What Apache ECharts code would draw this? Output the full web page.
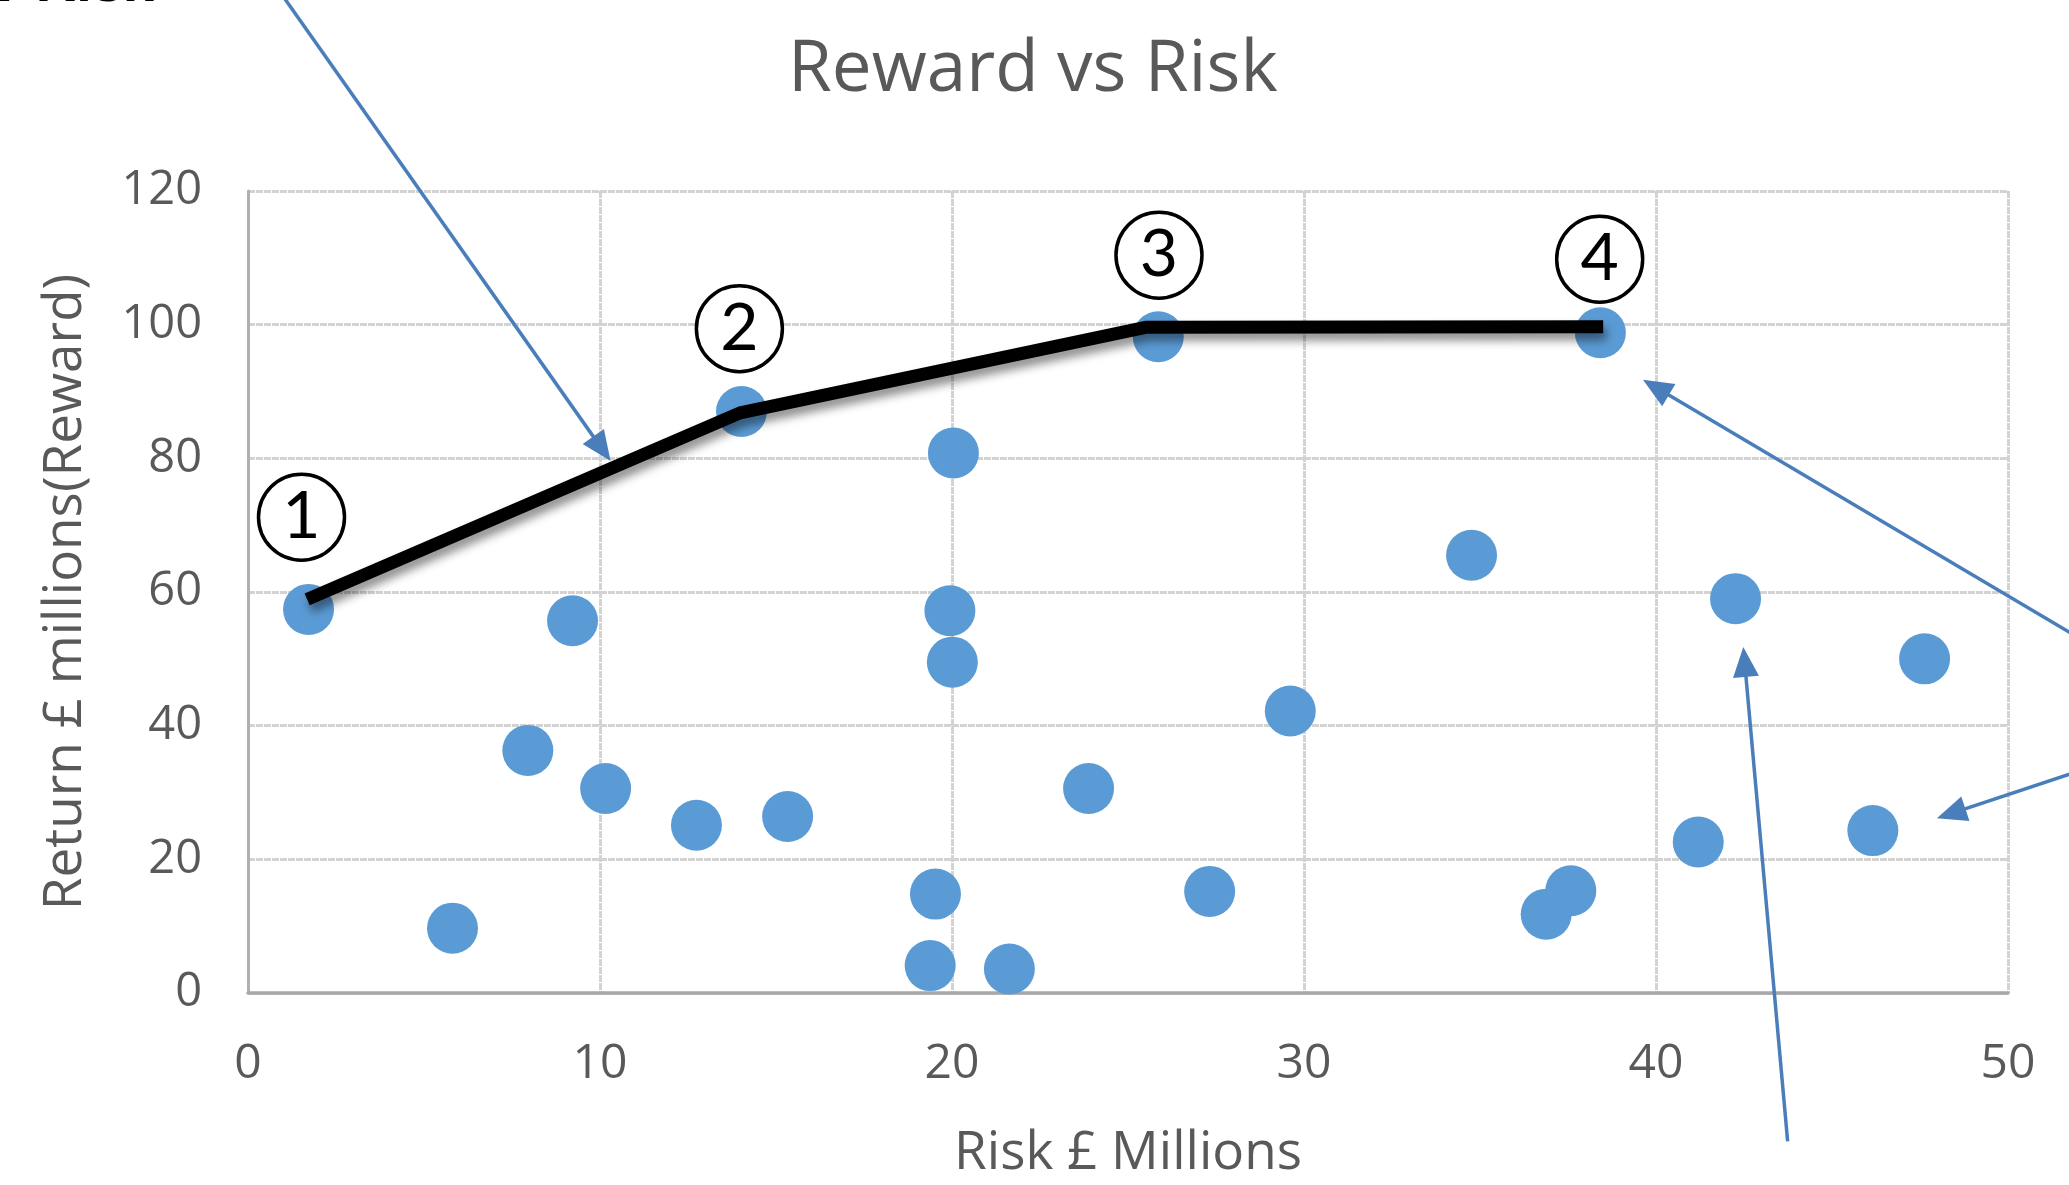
<!DOCTYPE html>
<html>
<head>
<meta charset="utf-8">
<title>Reward vs Risk</title>
<script src="https://cdn.jsdelivr.net/npm/echarts@6/dist/echarts.min.js"></script>
<style>
  html, body { margin: 0; padding: 0; background: #ffffff; }
  #chart { width: 2069px; height: 1185px; }
</style>
</head>
<body>
<div id="chart"></div>
<script>
// Projects: risk (x) and expected return (y), both in £ millions
const projectRisk = [1.72, 5.81, 7.95, 9.22, 10.16, 12.74, 14.02, 15.33, 19.38, 19.53, 19.94, 20.04, 20.01,
  21.63, 23.88, 25.86, 27.32, 29.61, 34.76, 36.88, 37.58, 38.42, 41.2, 42.26, 46.16, 47.63];
const projectReward = [57.4, 9.7, 36.3, 55.7, 30.6, 25.1, 87.0, 26.4, 4.1, 14.8, 57.2, 80.8, 49.5,
  3.6, 30.6, 98.2, 15.2, 42.2, 65.5, 11.8, 15.3, 98.8, 22.6, 59.0, 24.3, 50.0];

// Efficient frontier through the best portfolios
const frontierRisk = [1.68, 13.98, 25.5, 38.5];
const frontierReward = [58.9, 86.8, 99.6, 99.7];

// Numbered stages along the frontier
const stageLabels = ['1', '2', '3', '4'];
const stageRisk = [1.52, 13.96, 25.88, 38.4];
const stageReward = [71.2, 99.4, 110.4, 109.8];

// Call-out arrows: tail [risk, reward] -> head [risk, reward]
const arrowTail = [[0.68, 151.5], [52.33, 52.15], [52.33, 33.77], [43.74, -22.19]];
const arrowHead = [[10.3, 79.6], [39.63, 91.75], [47.98, 26.15], [42.48, 51.78]];

// Axis scales
const riskAxis = { min: 0, max: 50, interval: 10 };
const rewardAxis = { min: 0, max: 120, interval: 20 };

const textGrey = '#595959';
const gridGrey = '#d3d3d3';
const arrowBlue = '#4a7ebb';

const chart = echarts.init(document.getElementById('chart'), null, { renderer: 'canvas' });

const option = {
  backgroundColor: '#ffffff',
  animation: false,
  title: {
    text: 'Reward vs Risk',
    left: 783,
    top: 30,
    textStyle: { fontFamily: 'Open Sans', fontSize: 71, fontWeight: 'normal', color: textGrey }
  },
  graphic: [{
    type: 'text',
    style: {
      text: 'Reward v Risk',
      x: 154, y: 14,
      align: 'right', verticalAlign: 'bottom',
      font: 'bold 56px "Liberation Sans"',
      fill: '#000000'
    }
  }],
  grid: { left: 248, right: 61, top: 191, bottom: 191, containLabel: false },
  xAxis: {
    type: 'value',
    min: riskAxis.min, max: riskAxis.max, interval: riskAxis.interval,
    name: 'Risk £ Millions',
    nameLocation: 'middle',
    nameGap: 134,
    nameTextStyle: { fontFamily: 'Open Sans', fontSize: 53, color: textGrey },
    axisLine: { show: true, lineStyle: { color: '#a8a8a8', width: 3.5 } },
    axisTick: { show: false },
    axisLabel: { margin: 47, fontFamily: 'Open Sans', fontSize: 48, color: textGrey },
    splitLine: { show: true, lineStyle: { color: gridGrey, width: 3, type: [7, 1] } }
  },
  yAxis: {
    type: 'value',
    min: rewardAxis.min, max: rewardAxis.max, interval: rewardAxis.interval,
    name: 'Return £ millions(Reward)',
    nameLocation: 'middle',
    nameGap: 156,
    nameTextStyle: { fontFamily: 'Open Sans', fontSize: 53, color: textGrey },
    axisLine: { show: true, lineStyle: { color: '#b0b0b0', width: 3 } },
    axisTick: { show: false },
    axisLabel: { margin: 46, fontFamily: 'Open Sans', fontSize: 47, color: textGrey },
    splitLine: { show: true, lineStyle: { color: gridGrey, width: 3, type: [7, 1] } }
  },
  series: [
    {
      name: 'Projects',
      type: 'scatter',
      symbol: 'circle',
      symbolSize: 51,
      itemStyle: { color: '#5b9bd5', opacity: 1 },
      data: projectRisk.map((r, i) => [r, projectReward[i]]),
      z: 2
    },
    {
      name: 'Frontier',
      type: 'line',
      symbol: 'none',
      data: frontierRisk.map((r, i) => [r, frontierReward[i]]),
      lineStyle: {
        color: '#000000', width: 13, cap: 'butt', join: 'round',
        shadowColor: 'rgba(0,0,0,0.45)', shadowBlur: 10, shadowOffsetX: 3, shadowOffsetY: 7
      },
      z: 3
    },
    {
      name: 'Stages',
      type: 'scatter',
      symbol: 'circle',
      symbolSize: 86,
      itemStyle: { color: '#ffffff', borderColor: '#000000', borderWidth: 3.5, opacity: 1 },
      label: {
        show: true,
        position: 'inside',
        formatter: p => stageLabels[p.dataIndex],
        fontFamily: 'Lato', fontWeight: 'normal', fontSize: 66, color: '#000000'
      },
      data: stageRisk.map((r, i) => [r, stageReward[i]]),
      z: 4
    },
    {
      name: 'Callouts',
      type: 'custom',
      clip: false,
      silent: true,
      z: 5,
      data: arrowTail.map((t, i) => [t[0], t[1], arrowHead[i][0], arrowHead[i][1]]),
      renderItem: function (params, api) {
        const a = api.coord([api.value(0), api.value(1)]);
        const b = api.coord([api.value(2), api.value(3)]);
        const dx = b[0] - a[0], dy = b[1] - a[1];
        const len = Math.hypot(dx, dy);
        const ux = dx / len, uy = dy / len;
        const headLen = 30, headHalf = 13;
        const bx = b[0] - ux * headLen, by = b[1] - uy * headLen;
        return {
          type: 'group',
          children: [
            {
              type: 'line',
              shape: { x1: a[0], y1: a[1], x2: bx + ux * 2, y2: by + uy * 2 },
              style: { stroke: arrowBlue, lineWidth: 3.5 }
            },
            {
              type: 'polygon',
              shape: { points: [[b[0], b[1]], [bx - uy * headHalf, by + ux * headHalf], [bx + uy * headHalf, by - ux * headHalf]] },
              style: { fill: arrowBlue }
            }
          ]
        };
      }
    }
  ]
};

chart.setOption(option);
</script>
</body>
</html>
